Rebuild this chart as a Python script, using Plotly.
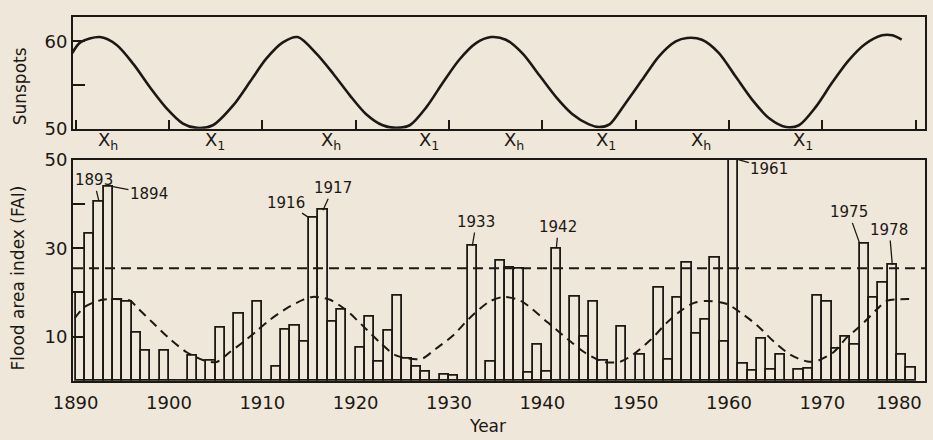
import plotly.graph_objects as go

# ---------------- data ----------------
years = list(range(1891, 1981))
fai = [20.0, 33.3, 40.6, 43.9, 18.4, 17.9, 10.9, 6.9, 0.0,          # 1891-1899
       6.9, 0.0, 0.0, 5.8, 0.0, 4.5, 12.0, 0.0, 15.3, 0.0,          # 1900-1909
       18.0, 0.0, 3.2, 11.6, 12.5, 8.8, 36.9, 38.6, 13.5, 16.2,     # 1910-1919
       0.0, 7.5, 14.6, 4.3, 11.3, 19.2, 5.0, 3.2, 2.1, 0.0,         # 1920-1929
       1.5, 1.3, 0.0, 30.5, 0.0, 4.3, 27.2, 25.5, 25.3, 1.8,        # 1930-1939
       8.2, 2.0, 30.0, 0.0, 19.0, 10.0, 17.9, 4.5, 0.0, 12.3,       # 1940-1949
       0.0, 6.0, 0.0, 21.0, 4.8, 18.9, 26.8, 10.8, 13.8, 27.9,      # 1950-1959
       8.8, 50.0, 3.9, 2.4, 9.5, 2.5, 6.0, 0.0, 2.5, 2.8,           # 1960-1969
       19.3, 18.0, 7.3, 10.0, 8.2, 31.1, 18.9, 22.1, 26.2, 6.0,     # 1970-1979
       3.0]                                                          # 1980
fai_mean = 25.5

fai_cycle_x = [1889.9, 1891.0, 1893.0, 1895.8, 1896.5, 1898.3, 1900.1, 1901.9,
               1903.7, 1905.1, 1906.5, 1907.9, 1909.4, 1910.8, 1912.6, 1914.4,
               1915.4, 1917.2, 1919.0, 1920.8, 1922.6, 1924.3, 1926.5, 1927.2,
               1928.6, 1930.4, 1932.2, 1934.3, 1935.9, 1937.7, 1940.6, 1942.7,
               1944.5, 1946.6, 1948.4, 1949.8, 1951.6, 1953.4, 1954.8, 1956.2,
               1957.7, 1959.8, 1961.2, 1963.0, 1964.8, 1966.6, 1968.4, 1969.4,
               1971.2, 1972.6, 1974.0, 1975.9, 1976.9, 1979.3]
fai_cycle_y = [14.2, 16.8, 18.4, 18.2, 16.8, 13.1, 9.5, 6.5,
               4.7, 4.3, 6.5, 8.7, 11.3, 13.8, 16.4, 18.4,
               19.0, 18.4, 16.0, 12.4, 8.7, 5.8, 4.9, 5.1,
               7.3, 10.2, 14.2, 17.9, 19.0, 18.1, 13.2, 9.5,
               6.5, 4.3, 4.4, 6.1, 9.3, 13.3, 15.8, 17.6,
               18.1, 17.4, 15.5, 12.6, 8.9, 5.9, 4.4, 4.5,
               6.5, 9.8, 12.3, 16.3, 18.1, 18.5]

sun_x = [1889.6, 1890.5, 1892.6, 1894.4, 1896.2, 1898.0, 1899.7, 1901.5, 1903.0,
         1904.7, 1906.9, 1908.7, 1910.4, 1912.2, 1913.8, 1915.8, 1917.6, 1919.4,
         1921.1, 1922.9, 1924.3, 1925.8, 1927.6, 1929.3, 1931.1, 1932.9, 1934.5,
         1936.1, 1937.9, 1939.7, 1941.5, 1943.2, 1945.0, 1946.1, 1947.2, 1948.9,
         1950.7, 1952.5, 1954.3, 1955.5, 1957.1, 1958.9, 1960.7, 1962.5, 1964.3,
         1966.1, 1967.5, 1969.3, 1971.0, 1972.8, 1974.6, 1976.4, 1977.5, 1978.5]
sun_y = [58.6, 59.9, 60.5, 59.6, 57.4, 54.7, 52.4, 50.6, 50.1,
         50.4, 52.7, 55.4, 58.0, 59.9, 60.5, 58.6, 56.3, 53.8,
         51.7, 50.4, 50.1, 50.4, 52.5, 55.2, 57.9, 59.8, 60.5,
         60.2, 58.6, 56.1, 53.6, 51.7, 50.5, 50.2, 50.5, 52.9,
         55.6, 58.3, 60.0, 60.4, 60.2, 58.7, 56.0, 53.3, 51.2,
         50.2, 50.4, 52.5, 55.2, 57.8, 59.7, 60.7, 60.7, 60.2]

labelled_years = [1893, 1894, 1916, 1917, 1933, 1942, 1961, 1975, 1978]
x_ticks = [1890, 1900, 1910, 1920, 1930, 1940, 1950, 1960, 1970, 1980]
x_tick_text = ["1890", "1900", "1910", "1920", "1930", "1940", "1950", "1960", "1970", "1980"]

# ---------------- styling ----------------
BG = "#EFE7D9"
INK = "#1c1814"
FONT = "DejaVu Sans"
XR = [1889.72, 1981.0]

fig = go.Figure()

# flood area index bars: each year's bar drawn over the interval ending at that year
fig.add_trace(go.Bar(x=years, y=fai, offset=-1, width=1,
                     marker=dict(color=BG, line=dict(color=INK, width=1.8)),
                     xaxis="x", yaxis="y", showlegend=False, hoverinfo="x+y"))
fig.add_trace(go.Scatter(x=XR, y=[fai_mean, fai_mean], mode="lines",
                         line=dict(color=INK, width=2, dash="10px,6px"),
                         xaxis="x", yaxis="y", showlegend=False))
fig.add_trace(go.Scatter(x=fai_cycle_x, y=fai_cycle_y, mode="lines",
                         line=dict(color=INK, width=2, dash="9px,6px",
                                   shape="spline", smoothing=0.8),
                         xaxis="x", yaxis="y", showlegend=False))
# sunspot curve
fig.add_trace(go.Scatter(x=sun_x, y=sun_y, mode="lines",
                         line=dict(color=INK, width=2.6, shape="spline", smoothing=0.8),
                         xaxis="x2", yaxis="y2", showlegend=False))

axis_common = dict(showline=True, linecolor=INK, linewidth=2, mirror=True,
                   showgrid=False, zeroline=False, tickcolor=INK,
                   tickfont=dict(family=FONT, size=18, color=INK))

# the last year label sits against the right frame edge; it is placed as an
# annotation so that it stays inside the page
axis_labels = x_tick_text[:-1] + [""]

fig.update_layout(
    width=933, height=440,
    paper_bgcolor=BG, plot_bgcolor=BG,
    margin=dict(l=73, r=6, t=11, b=59),
    bargap=0,
    font=dict(family=FONT, color=INK),
    xaxis=dict(domain=[0, 1], anchor="y", range=XR, tickvals=x_ticks,
               ticktext=axis_labels, ticks="", ticklabelstandoff=4, **axis_common),
    yaxis=dict(domain=[0, 0.608], anchor="x", range=[0, 50],
               tickvals=[0, 10, 20, 30, 40, 50],
               ticktext=["", "10", "", "30", "", "50"],
               ticks="inside", ticklen=12, tickwidth=2, **axis_common),
    xaxis2=dict(domain=[0, 1], anchor="y2", range=XR, matches="x",
                tickvals=x_ticks, showticklabels=False,
                ticks="inside", ticklen=9, tickwidth=2, **axis_common),
    yaxis2=dict(domain=[0.693, 1], anchor="x2", range=[50, 62.8],
                tickvals=[50, 55, 60], ticktext=["50", "", "60"],
                ticks="inside", ticklen=12, tickwidth=2, **axis_common),
)

title_font = dict(size=17, family=FONT, color=INK)
annotations = []
# axis titles
annotations.append(dict(text="Sunspots", xref="paper", yref="paper", x=-0.062, y=0.81,
                        xanchor="center", yanchor="middle", textangle=-90,
                        showarrow=False, font=title_font))
annotations.append(dict(text="Flood area index (FAI)", xref="paper", yref="paper",
                        x=-0.064, y=0.283, xanchor="center", yanchor="middle",
                        textangle=-90, showarrow=False, font=title_font))
annotations.append(dict(text="Year", xref="paper", yref="paper", x=0.486, y=-0.124,
                        xanchor="center", yanchor="middle", showarrow=False,
                        font=title_font))
annotations.append(dict(text=x_tick_text[-1], xref="x", yref="paper", x=x_ticks[-1],
                        y=-0.058, xanchor="right", yanchor="middle", xshift=8,
                        showarrow=False, font=dict(size=18, family=FONT, color=INK)))

# sunspot maximum / minimum markers under the top panel
for xp, sub in [(1893.5, "h"), (1904.9, "1"), (1917.4, "h"), (1927.9, "1"),
                (1937.0, "h"), (1946.8, "1"), (1957.0, "h"), (1967.9, "1")]:
    annotations.append(dict(text=f"X<sub>{sub}</sub>", xref="x", yref="paper",
                            x=xp, y=0.659, xanchor="center", yanchor="middle",
                            showarrow=False,
                            font=dict(size=18, family=FONT, color=INK)))

# labelled flood years with leader lines
leader = {1893: ("c", -5, -21), 1894: ("r", 36, 7), 1916: ("l", -23, -15),
          1917: ("c", 10, -22), 1933: ("c", 4, -24), 1942: ("c", 2, -21),
          1961: ("r", 31, 9), 1975: ("l", -11, -31), 1978: ("c", -3, -35)}
for yr in labelled_years:
    side, ax, ay = leader[yr]
    val = fai[years.index(yr)]
    xa = {"c": yr - 0.5, "l": yr - 1, "r": yr}[side]
    annotations.append(dict(text=str(yr), x=xa, y=val, xref="x", yref="y",
                            showarrow=True, arrowhead=0, arrowwidth=1.3,
                            arrowcolor=INK, ax=ax, ay=ay, standoff=0,
                            font=dict(size=15, family=FONT, color=INK)))

fig.update_layout(annotations=annotations)

fig.write_html("out.html",
               config={"displayModeBar": False},
               post_script="document.body.style.margin='0px';document.body.style.padding='0px';")
